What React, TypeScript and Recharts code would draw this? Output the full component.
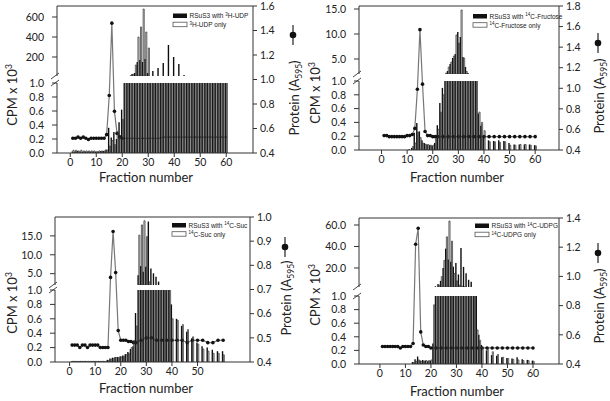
import React from 'react';
import { ComposedChart, Bar, Line, XAxis, YAxis, ReferenceLine } from 'recharts';

const FONT = 'Lato, "Open Sans", sans-serif';
const INK = '#222';
const AXIS = '#333';

const FRACTIONS = [
  1, 2, 3, 4, 5, 6, 7, 8, 9, 10, 11, 12, 13, 14, 15, 16, 17, 18, 19, 20,
  21, 22, 23, 24, 25, 26, 27, 28, 29, 30, 31, 32, 33, 34, 35, 36, 37, 38, 39, 40,
  41, 42, 43, 44, 45, 46, 47, 48, 49, 50, 51, 52, 53, 54, 55, 56, 57, 58, 59, 60,
];

// CPM x 10^3, RSuS3 with 3H-UDP / 3H-UDP only, protein A595
const UDP_WITH = [
  0.02, 0.02, 0.03, 0.02, 0.02, 0.02, 0.02, 0.02, 0.02, 0.02, 0.02, 0.03, 0.03,
  0.05, 0.36, 0.22, 0.3, 0.2, 0.44, 0.62, 1.6,
  4, 8, 30, 40, 150, 170, 150, 180, 40,
  8, 60, 6, 90, 6, 140, 5, 320, 5, 200,
  5, 130, 4, 20, 4, 5, 4, 5, 4, 5,
  4, 5, 4, 4, 4, 4, 3, 4, 3, 3,
];
const UDP_ONLY = [
  0.04, 0.04, 0.03, 0.04, 0.03, 0.03, 0.03, 0.03, 0.03, 0.02, 0.03, 0.03, 0.03,
  0.04, 0.1, 0.18, 0.12, 0.3, 0.25, 0.48, 1.4,
  3, 12, 28, 120, 400, 500, 680, 450, 290,
  6, 5, 6, 5, 5, 5, 5, 4, 5, 4,
  4, 4, 4, 4, 4, 4, 4, 3, 4, 3,
  3, 3, 3, 3, 3, 3, 3, 3, 3, 3,
];
const UDP_PROTEIN = [
  0.52, 0.52, 0.53, 0.52, 0.53, 0.52, 0.51, 0.52, 0.52, 0.52, 0.52, 0.52, 0.52,
  0.55, 0.87, 1.46, 0.74, 0.56, 0.53, 0.52,
  null, 0.52, null, 0.52, null, 0.52, null, 0.52, null, 0.52,
  null, 0.52, null, 0.52, null, 0.53, null, 0.53, null, 0.53,
  null, 0.53, null, 0.53, null, 0.53, null, 0.53, null, 0.53,
  null, 0.53, null, 0.53, null, 0.53, null, 0.53, null, 0.53,
];

// 14C-Fructose
const FRUC_WITH = [
  0, 0, 0, 0, 0, 0, 0, 0, 0, 0, 0.01,
  0.03, 0.25, 0.39, 0.27, 0.14, 0.1, 0.08, 0.07, 0.06,
  0.1, 0.36, 0.68, 0.9, 1.5, 2.6, 4.0, 5.2, 6.0, 10.4,
  9.4, 5.4, 3.4, 2.2, 1.6, 1.3, 1.1, 0.53, 0.35, 0.2,
  null, 0.14, null, 0.13, null, 0.14, null, 0.13, null, 0.1,
  null, 0.08, null, 0.08, null, 0.08, null, 0.08, null, 0.07,
];
const FRUC_ONLY = [
  0, 0, 0, 0, 0, 0, 0, 0, 0, 0, 0,
  0.05, 0.1, 0.26, 0.18, 0.1, 0.08, 0.08, 0.07, 0.07,
  0.17, 0.3, 0.55, 0.8, 2.2, 3.4, 4.4, 5.6, 9.8, 8.2,
  14.8, 5.2, 2.5, 1.5, 1.3, 1.2, 1.05, 0.55, 0.4, 0.28,
  null, 0.12, null, 0.12, null, 0.11, null, 0.12, null, 0.07,
  null, 0.07, null, 0.08, null, 0.08, null, 0.07, null, 0.06,
];
const FRUC_PROTEIN = [
  0.54, 0.54, 0.53, 0.53, 0.53, 0.53, 0.53, 0.53, 0.53, 0.54, 0.54, 0.55,
  0.61, 0.99, 1.57, 1.04, 0.58,
  0.54, 0.54, 0.53, 0.53, 0.53,
  null, 0.53, null, 0.53, null, 0.53, null, 0.53,
  null, 0.53, null, 0.53, null, 0.53, null, 0.53, null, 0.53,
  null, 0.53, null, 0.53, null, 0.53, null, 0.53, null, 0.53,
  null, 0.53, null, 0.53, null, 0.53, null, 0.53, null, 0.53,
];

// 14C-Suc
const SUC_WITH = [
  0.01, 0.01, 0.01, 0.01, 0.01, 0.01, 0.01, 0.01, 0.01, 0.01, 0.01, 0.01, 0.01, 0.01,
  0.03, 0.05, 0.06, 0.07, 0.07, 0.08, 0.09, 0.11, 0.14, 0.18,
  0.22, 0.68, 4.6, 7.0, 5.5, 6.8, 18.8, 6.4, 5.1, 4.2, 2.9,
  1.8, 1.5, 1.3, 1.1, 0.8,
  null, 0.6, null, 0.5, null, 0.42, null, 0.33, null, 0.27,
  null, 0.22, null, 0.2, null, 0.17, null, 0.15, null, 0.15,
];
const SUC_ONLY = [
  0.01, 0.01, 0.01, 0.01, 0.01, 0.01, 0.01, 0.01, 0.01, 0.01, 0.01, 0.01, 0.01, 0.01,
  0.02, 0.04, 0.05, 0.06, 0.06, 0.07, 0.08, 0.1, 0.12, 0.2,
  0.3, 0.5, 15.2, 17.9, 19.0, 14.8, 2.8, 2.0, 1.8, 1.6, 1.5,
  1.4, 1.3, 1.2, 1.1, 0.6,
  null, 0.58, null, 0.52, null, 0.45, null, 0.35, null, 0.25,
  null, 0.18, null, 0.15, null, 0.12, null, 0.12, null, 0.1,
];
const SUC_PROTEIN = [
  0.47, 0.47, 0.47, 0.46, 0.47, 0.47, 0.46, 0.47, 0.47, 0.47, 0.47, 0.46, 0.46, 0.46,
  0.46, 0.75, 0.94, 0.77, 0.53, 0.49,
  0.49, 0.49, 0.485, 0.485, 0.48,
  0.48, null, 0.49, null, 0.5,
  null, 0.5, null, 0.49, null, 0.49, null, 0.49, null, 0.49,
  null, 0.49, null, 0.49, null, 0.48, null, 0.49, null, 0.49,
  null, 0.49, null, 0.48, null, 0.48, null, 0.49, null, 0.49,
];

// 14C-UDPG
const UDPG_WITH = [
  0, 0, 0, 0, 0, 0, 0, 0, 0, 0, 0, 0,
  0.03, 0.07, 0.11, 0.05, 0.06, 0.05, 0.04, 0.05, 0.3,
  3, 5, 8, 20, 38, 28, 25.8, 21.2, 24.6,
  14, 38.5, 21, 15, 9, 7.2, 1.6, 1.2, 0.43, 0.28,
  null, 0.2, null, 0.13, null, 0.12, null, 0.1, null, 0.09,
  null, 0.08, null, 0.1, null, 0.07, null, 0.06, null, 0.05,
];
const UDPG_ONLY = [
  0, 0, 0, 0, 0, 0, 0, 0, 0, 0, 0, 0,
  0.02, 0.04, 0.06, 0.04, 0.04, 0.05, 0.05, 0.06, 0.87,
  1.5, 4, 12, 27, 49, 63.7, 45, 15, 8,
  4, 3, 2.5, 2, 1.6, 1.4, 1.2, 0.5, 0.35, 0.25,
  null, 0.22, null, 0.18, null, 0.14, null, 0.1, null, 0.08,
  null, 0.07, null, 0.06, null, 0.05, null, 0.05, null, 0.04,
];
const UDPG_PROTEIN = [
  0.52, 0.52, 0.52, 0.52, 0.52, 0.52, 0.52, 0.51, 0.52, 0.52, 0.52, 0.52,
  0.54, 1.22, 1.33, 0.62, 0.53, 0.52, 0.52, 0.51,
  null, 0.51, null, 0.51, null, 0.51, null, 0.51, null, 0.51,
  null, 0.51, null, 0.51, null, 0.51, null, 0.51, null, 0.51,
  null, 0.51, null, 0.51, null, 0.51, null, 0.51, null, 0.51,
  null, 0.51, null, 0.51, null, 0.51, null, 0.51, null, 0.51,
];

const X_TICKS = [0, 10, 20, 30, 40, 50, 60];
const X_TICKS_SUC = [0, 10, 20, 30, 40, 50];
const LOWER_TICKS = [0, 0.2, 0.4, 0.6, 0.8, 1.0];

type Panel = {
  key: string;
  left: number; right: number; top: number; bottom: number;
  upperBottom: number; lowerTop: number;
  xDomain: [number, number]; xTicks: number[];
  upperDomain: [number, number]; upperTicks: number[]; upperDigits: number;
  pDomain: [number, number]; pTicks: number[];
  withV: (number | null)[]; onlyV: (number | null)[]; protein: (number | null)[];
  tailDots: boolean;
  cpm: { x: number; y: number };
  prot: { x: number; y: number; sym: number };
  frac: { x: number; y: number };
  legend: { x: number; y: number; iso: string; name: string };
};

const PANELS: Panel[] = [
  {
    key: 'udp', left: 57, right: 253, top: 6, bottom: 153, upperBottom: 76, lowerTop: 83,
    xDomain: [-5.1, 70.3], xTicks: X_TICKS,
    upperDomain: [10, 710], upperTicks: [200, 400, 600], upperDigits: 0,
    pDomain: [0.4, 1.6], pTicks: [0.4, 0.6, 0.8, 1.0, 1.2, 1.4, 1.6],
    withV: UDP_WITH, onlyV: UDP_ONLY, protein: UDP_PROTEIN, tailDots: false,
    cpm: { x: 17, y: 95 }, prot: { x: 299, y: 98, sym: 35 }, frac: { x: 146, y: 182 },
    legend: { x: 173, y: 13.5, iso: '3', name: 'H-UDP' },
  },
  {
    key: 'fruc', left: 359, right: 559, top: 6, bottom: 150, upperBottom: 74, lowerTop: 81,
    xDomain: [-8.8, 69.3], xTicks: X_TICKS,
    upperDomain: [2, 15.6], upperTicks: [5, 10, 15], upperDigits: 1,
    pDomain: [0.4, 1.8], pTicks: [0.4, 0.6, 0.8, 1.0, 1.2, 1.4, 1.6, 1.8],
    withV: FRUC_WITH, onlyV: FRUC_ONLY, protein: FRUC_PROTEIN, tailDots: true,
    cpm: { x: 320, y: 93 }, prot: { x: 604, y: 96, sym: 43 }, frac: { x: 457, y: 182 },
    legend: { x: 473, y: 14, iso: '14', name: 'C-Fructose' },
  },
  {
    key: 'suc', left: 55, right: 250, top: 217, bottom: 362, upperBottom: 285, lowerTop: 290,
    xDomain: [-5.7, 70.5], xTicks: X_TICKS_SUC,
    upperDomain: [2, 20], upperTicks: [5, 10, 15], upperDigits: 1,
    pDomain: [0.4, 1.0], pTicks: [0.4, 0.5, 0.6, 0.7, 0.8, 0.9, 1.0],
    withV: SUC_WITH, onlyV: SUC_ONLY, protein: SUC_PROTEIN, tailDots: true,
    cpm: { x: 17, y: 303 }, prot: { x: 291, y: 298, sym: 247 }, frac: { x: 146, y: 393 },
    legend: { x: 172, y: 223, iso: '14', name: 'C-Suc' },
  },
  {
    key: 'udpg', left: 359, right: 559, top: 218, bottom: 364, upperBottom: 287, lowerTop: 296,
    xDomain: [-8.2, 70.2], xTicks: X_TICKS,
    upperDomain: [2.3, 66.5], upperTicks: [20, 40, 60], upperDigits: 1,
    pDomain: [0.4, 1.4], pTicks: [0.4, 0.6, 0.8, 1.0, 1.2, 1.4],
    withV: UDPG_WITH, onlyV: UDPG_ONLY, protein: UDPG_PROTEIN, tailDots: true,
    cpm: { x: 320, y: 295 }, prot: { x: 604, y: 306, sym: 253 }, frac: { x: 457, y: 396 },
    legend: { x: 475, y: 223.5, iso: '14', name: 'C-UDPG' },
  },
];

const tickStyle = { fontSize: 10.5, fill: INK, fontFamily: FONT };

function rowsOf(p: Panel) {
  return FRACTIONS.map((f, i) => ({ f, w: p.withV[i], o: p.onlyV[i], prot: p.protein[i] }));
}

function upperRowsOf(p: Panel) {
  const lo = p.upperDomain[0];
  return FRACTIONS.map((f, i) => {
    const w = p.withV[i];
    const o = p.onlyV[i];
    return { f, w: w != null && w > lo ? w : null, o: o != null && o > lo ? o : null };
  });
}

function ProteinLayer({ p }: { p: Panel }) {
  const pw = p.right - p.left;
  const ph = p.bottom - p.top;
  // the first panel shows the tail of the protein trace without visible markers
  const renderDot = (props: any) => {
    const { cx, cy, payload, index } = props;
    if (cx == null || cy == null || payload?.prot == null) return <g key={`d${index}`} />;
    const small = !p.tailDots && payload.f > 20;
    return <circle key={`d${index}`} cx={cx} cy={cy} r={small ? 0.6 : 1.8} fill="#111" />;
  };
  return (
    <div style={{ position: 'absolute', left: p.left - 10, top: p.top - 10 }}>
      <ComposedChart width={pw + 50} height={ph + 20} data={rowsOf(p)} margin={{ top: 10, right: 0, bottom: 10, left: 10 }}>
        <XAxis type="number" dataKey="f" domain={p.xDomain} allowDataOverflow hide />
        <YAxis
          yAxisId="p"
          orientation="right"
          width={40}
          domain={p.pDomain}
          ticks={p.pTicks}
          allowDataOverflow
          interval={0}
          tickFormatter={(v: number) => v.toFixed(1)}
          tick={tickStyle}
          tickSize={4}
          tickMargin={3}
          axisLine={{ stroke: AXIS }}
          tickLine={{ stroke: AXIS }}
        />
        <ReferenceLine yAxisId="p" y={p.pDomain[1]} stroke={AXIS} />
        <Line
          yAxisId="p"
          dataKey="prot"
          type="linear"
          stroke="#777"
          strokeWidth={1.2}
          dot={renderDot}
          connectNulls
          isAnimationActive={false}
        />
      </ComposedChart>
    </div>
  );
}

function LowerBars({ p }: { p: Panel }) {
  const pw = p.right - p.left;
  const ph = p.bottom - p.lowerTop;
  return (
    <div style={{ position: 'absolute', left: p.left - 45, top: p.lowerTop - 10 }}>
      <ComposedChart width={pw + 55} height={ph + 40} data={rowsOf(p)} margin={{ top: 10, right: 10, bottom: 0, left: 0 }} barGap={0}>
        <XAxis
          type="number"
          dataKey="f"
          domain={p.xDomain}
          ticks={p.xTicks}
          allowDataOverflow
          interval={0}
          height={30}
          tick={tickStyle}
          tickSize={4}
          tickMargin={2}
          axisLine={{ stroke: AXIS }}
          tickLine={{ stroke: AXIS }}
        />
        <YAxis
          width={45}
          domain={[0, 1]}
          ticks={LOWER_TICKS}
          allowDataOverflow
          interval={0}
          tickFormatter={(v: number) => v.toFixed(1)}
          tick={tickStyle}
          tickSize={5}
          tickMargin={8}
          axisLine={{ stroke: AXIS }}
          tickLine={{ stroke: AXIS }}
        />
        <Bar dataKey="w" fill="#0d0d0d" barSize={1.4} isAnimationActive={false} />
        <Bar dataKey="o" fill="none" stroke="#333" strokeWidth={0.75} barSize={1.1} isAnimationActive={false} />
      </ComposedChart>
    </div>
  );
}

function UpperBars({ p }: { p: Panel }) {
  const pw = p.right - p.left;
  const ph = p.upperBottom - p.top;
  return (
    <div style={{ position: 'absolute', left: p.left - 45, top: p.top - 10 }}>
      <ComposedChart width={pw + 55} height={ph + 20} data={upperRowsOf(p)} margin={{ top: 10, right: 10, bottom: 10, left: 0 }} barGap={0}>
        <XAxis type="number" dataKey="f" domain={p.xDomain} allowDataOverflow hide />
        <YAxis
          width={45}
          domain={p.upperDomain}
          ticks={p.upperTicks}
          allowDataOverflow
          interval={0}
          tickFormatter={(v: number) => v.toFixed(p.upperDigits)}
          tick={tickStyle}
          tickSize={5}
          tickMargin={8}
          axisLine={{ stroke: AXIS }}
          tickLine={{ stroke: AXIS }}
        />
        <Bar dataKey="w" fill="#0d0d0d" barSize={1.4} isAnimationActive={false} />
        <Bar dataKey="o" fill="none" stroke="#333" strokeWidth={0.75} barSize={1.1} isAnimationActive={false} />
      </ComposedChart>
    </div>
  );
}

function Decorations({ p }: { p: Panel }) {
  const lg = p.legend;
  const symX = p.prot.x - 6;
  return (
    <g fontFamily={FONT} fill={INK}>
      {/* axis break marks */}
      <line x1={p.left - 6} y1={p.upperBottom + 3} x2={p.left + 2} y2={p.upperBottom - 3} stroke={AXIS} strokeWidth={0.9} />
      <line x1={p.left - 6} y1={p.lowerTop + 3} x2={p.left + 2} y2={p.lowerTop - 3} stroke={AXIS} strokeWidth={0.9} />

      <text transform={`translate(${p.cpm.x},${p.cpm.y}) rotate(-90)`} textAnchor="middle" fontSize={13}>
        CPM x 10<tspan fontSize={8.5} dy={-5}>3</tspan>
      </text>

      <text transform={`translate(${p.prot.x},${p.prot.y}) rotate(-90)`} textAnchor="middle" fontSize={13}>
        Protein (A<tspan fontSize={8.5} dy={3}>595</tspan><tspan dy={-3}>)</tspan>
      </text>
      <line x1={symX} y1={p.prot.sym - 10} x2={symX} y2={p.prot.sym + 10} stroke="#222" strokeWidth={1.2} />
      <circle cx={symX} cy={p.prot.sym} r={3.3} fill="#111" />

      <text x={p.frac.x} y={p.frac.y} textAnchor="middle" fontSize={13}>Fraction number</text>

      <g fontFamily='"Liberation Sans", Arial, sans-serif' fontSize={6.5}>
        <rect x={lg.x} y={lg.y} width={14} height={4.5} fill="#111" />
        <text x={lg.x + 16.5} y={lg.y + 4.8}>
          RSuS3 with <tspan fontSize={4.5} dy={-2.5}>{lg.iso}</tspan><tspan dy={2.5}>{lg.name}</tspan>
        </text>
        <rect x={lg.x} y={lg.y + 8.7} width={14} height={4.5} fill="#fff" stroke="#555" strokeWidth={0.8} />
        <text x={lg.x + 16.5} y={lg.y + 13.5}>
          <tspan fontSize={4.5} dy={-2.5}>{lg.iso}</tspan><tspan dy={2.5}>{lg.name} only</tspan>
        </text>
      </g>
    </g>
  );
}

export default function App() {
  return (
    <div style={{ position: 'absolute', left: 0, top: 0, width: 610, height: 401, background: '#fff', fontFamily: FONT, overflow: 'hidden' }}>
      {PANELS.map((p) => (
        <React.Fragment key={p.key}>
          <ProteinLayer p={p} />
          <LowerBars p={p} />
          <UpperBars p={p} />
        </React.Fragment>
      ))}
      <svg width={610} height={401} style={{ position: 'absolute', left: 0, top: 0, pointerEvents: 'none' }}>
        {PANELS.map((p) => (
          <Decorations key={p.key} p={p} />
        ))}
      </svg>
    </div>
  );
}
